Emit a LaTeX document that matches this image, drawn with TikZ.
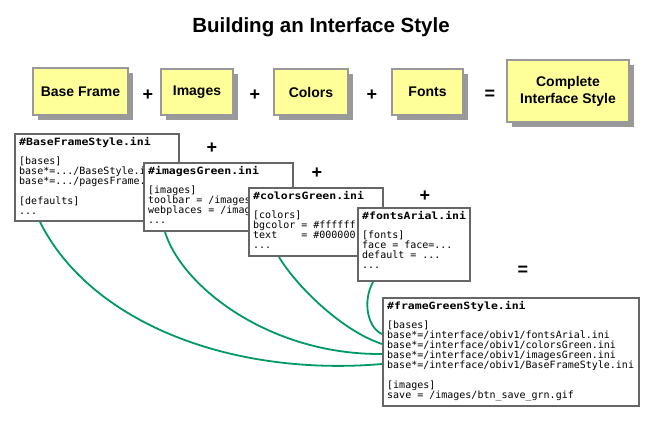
\documentclass[tikz,border=0pt]{standalone}
\usepackage{fontspec}
\setmainfont{Liberation Sans}
\newfontfamily\codefont{DejaVu Sans Mono}
\newfontfamily\codehead[FakeStretch=1.15]{DejaVu Sans Mono Bold}
\usetikzlibrary{calc,shadows}
\definecolor{notepaper}{HTML}{FFFF99}
\definecolor{shadowgray}{HTML}{999999}
\definecolor{framegray}{HTML}{666666}
\definecolor{linkgreen}{HTML}{009966}
\newcommand{\inihead}[1]{{\codehead #1}}
\begin{document}
\begin{tikzpicture}[x=1pt, y=-1pt,
  part/.style={draw=shadowgray, line width=2pt, fill=notepaper, inner sep=0pt, align=center,
    drop shadow={shadow xshift=5pt, shadow yshift=-5pt, fill=shadowgray, opacity=1},
    font=\fontsize{14}{17}\selectfont\bfseries},
  op/.style={inner sep=0pt, font=\fontsize{18}{18}\selectfont\bfseries},
  inibox/.style={draw=framegray, line width=2pt, fill=white, anchor=north west, inner sep=0pt},
  initext/.style={anchor=north west, inner sep=0pt, align=left, font=\codefont\fontsize{10}{10}\selectfont},
  link/.style={draw=linkgreen, line width=1.8pt}]
  \useasboundingbox (0,0) rectangle (651,422);
  \node[anchor=base, font=\fontsize{20.5}{24}\selectfont\bfseries] (title) at (321,33) {Building an Interface Style};
  % top row
  \node[part, minimum width=95pt, minimum height=47pt] (bframe) at (80.5,91.5) {Base Frame};
  \node[part, minimum width=72pt, minimum height=46pt] (images) at (197,92) {Images};
  \node[part, minimum width=74pt, minimum height=46pt] (colors) at (311,92) {Colors};
  \node[part, minimum width=71pt, minimum height=46pt] (fonts) at (427.5,92) {Fonts};
  \node[part, minimum width=122pt, minimum height=62pt] (complete) at (568,91.5) {Complete\\Interface Style};
  \node[op] (plusa) at (148,95) {+};
  \node[op] (plusb) at (255,95) {+};
  \node[op] (plusc) at (372,95) {+};
  \node[op] (equal) at (490,95) {=};
  % ini files
  \node[inibox, minimum width=164pt, minimum height=87pt] (bfs) at (14,133) {};
  \node[initext] (bfstext) at ($(bfs.north west)+(5,4)$) {\inihead{\#BaseFrameStyle.ini}\\[9pt]
    {[bases]}\\ base*=.../BaseStyle.i\\ base*=.../pagesFrame.\\[10pt] {[defaults]}\\ ...};
  \node[inibox, minimum width=149pt, minimum height=68pt] (img) at (143,162) {};
  \node[initext] (imgtext) at ($(img.north west)+(5,4)$) {\inihead{\#imagesGreen.ini}\\[9pt]
    {[images]}\\ toolbar = /images\\ webplaces = /imag\\ ...};
  \node[inibox, minimum width=134pt, minimum height=68pt] (col) at (248,187) {};
  \node[initext] (coltext) at ($(col.north west)+(5,4)$) {\inihead{\#colorsGreen.ini}\\[9pt]
    {[colors]}\\ bgcolor = \#ffffff\\ text\ \ \ \ = \#000000\\ ...};
  \node[inibox, minimum width=112pt, minimum height=73pt] (fnt) at (357,207) {};
  \node[initext] (fnttext) at ($(fnt.north west)+(5,4)$) {\inihead{\#fontsArial.ini}\\[9pt]
    {[fonts]}\\ face = face=...\\ default = ...\\ ...};
  \node[inibox, minimum width=256pt, minimum height=108pt] (frm) at (382,297) {};
  \node[initext] (frmtext) at ($(frm.north west)+(5,4)$) {\inihead{\#frameGreenStyle.ini}\\[9pt]
    {[bases]}\\
    base*=/interface/obiv1/fontsArial.ini\\
    base*=/interface/obiv1/colorsGreen.ini\\
    base*=/interface/obiv1/imagesGreen.ini\\
    base*=/interface/obiv1/BaseFrameStyle.ini\\[10pt]
    {[images]}\\
    save = /images/btn\_save\_grn.gif};
  \node[op] (plusd) at (212,148) {+};
  \node[op] (pluse) at (317,173) {+};
  \node[op] (plusf) at (425,196) {+};
  \node[op] (equalb) at (523,271) {=};
  % links into frameGreenStyle
  \draw[link] ($(bfs.south west)+(26,0)$) .. controls +(50,100) and +(-152,13) .. ($(frm.north west)+(0,67)$);
  \draw[link] ($(img.south west)+(22,0)$) .. controls +(17,55) and +(-112,1) .. ($(frm.north west)+(0,57)$);
  \draw[link] ($(col.south west)+(31,0)$) .. controls +(16,27) and +(-42,-14) .. ($(frm.north west)+(0,47)$);
  \draw[link] ($(fnt.south west)+(16,0)$) .. controls +(-11,20) and +(-14,-6) .. ($(frm.north west)+(0,37)$);
\end{tikzpicture}
\end{document}
